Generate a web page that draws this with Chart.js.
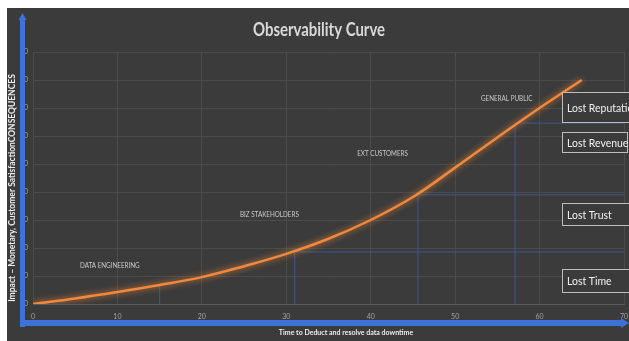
<!DOCTYPE html>
<html>
<head>
<meta charset="utf-8">
<script src="https://cdn.jsdelivr.net/npm/chart.js@4.4.1/dist/chart.umd.min.js"></script>
<style>
  html, body { margin: 0; padding: 0; background: #ffffff; overflow: hidden; }
  #wrap { position: absolute; left: 7px; top: 8px; width: 622px; height: 333px; }
  canvas { display: block; }
</style>
</head>
<body>
<div id="wrap"><canvas id="c" width="622" height="333"></canvas></div>
<script>
// Time to detect / resolve (x) and impact (y) along the curve
const timeValues   = [0, 5, 10, 15, 20, 25, 30, 35, 40, 45, 50, 55, 60, 65];
const impactValues = [0, 0.2, 0.43, 0.68, 0.96, 1.35, 1.79, 2.33, 3.0, 3.82, 4.87, 5.95, 7.0, 8.0];

// Escalation thresholds: the time at which each level is hit and its impact
const thresholdTimes   = [15, 31, 45.6, 57.1];
const thresholdImpacts = [0.68, 1.86, 3.9, 6.46];
const thresholdExtend  = [false, true, true, true];

// Audience labels along the curve
const audienceNames  = ['DATA ENGINEERING', 'BIZ STAKEHOLDERS', 'EXT CUSTOMERS', 'GENERAL PUBLIC'];
const audienceTimes  = [9.1, 28, 41.4, 56.1];
const audienceImpact = [1.36, 3.18, 5.36, 7.32];

// Consequence boxes at the right edge
const consequenceNames = ['Lost Reputation', 'Lost Revenue', 'Lost Trust', 'Lost Time'];

const xTickLabels = ['0', '10', '20', '30', '40', '50', '60', '70'];
const yTickLabels = ['0', '0', '0', '0', '0', '0', '0', '0', '0', '0'];

const chartTitle = 'Observability Curve';
const xTitle = 'Time to Deduct and resolve data downtime';
const yTitle = 'Impact \u2013 Monetary, Customer SatisfactionCONSEQUENCES';

const BG = '#3b3b3b';
const AXIS_BLUE = '#3f72d6';

const curvePoints = timeValues.map((t, i) => ({ x: t, y: impactValues[i] }));

const thresholdSets = thresholdTimes.map((t, i) => {
  const pts = [{ x: t, y: 0 }, { x: t, y: thresholdImpacts[i] }];
  if (thresholdExtend[i]) pts.push({ x: 70, y: thresholdImpacts[i] });
  return {
    data: pts,
    borderColor: '#3a5a8e',
    borderWidth: 1,
    pointRadius: 0,
    tension: 0,
    order: 1
  };
});

// draw text squeezed horizontally by a factor
function squeezedText(ctx, text, x, y, sx) {
  ctx.save();
  ctx.translate(x, y);
  ctx.scale(sx, 1);
  ctx.fillText(text, 0, 0);
  ctx.restore();
}

const decor = {
  id: 'decor',
  beforeDraw(chart) {
    const ctx = chart.ctx;
    ctx.save();
    ctx.fillStyle = BG;
    ctx.fillRect(0, 0, chart.width, chart.height);
    ctx.restore();
  },
  beforeDatasetDraw(chart, args) {
    if (args.index === 0) {
      const ctx = chart.ctx;
      ctx.save();
      ctx.shadowColor = 'rgba(255,140,50,0.9)';
      ctx.shadowBlur = 6;
    }
  },
  afterDatasetDraw(chart, args) {
    if (args.index === 0) chart.ctx.restore();
  },
  afterDraw(chart) {
    const ctx = chart.ctx;
    const xs = chart.scales.x, ys = chart.scales.y;
    ctx.save();

    // chart title
    ctx.fillStyle = '#d9d9d9';
    ctx.font = 'bold 18px Lato';
    ctx.textAlign = 'center';
    ctx.textBaseline = 'middle';
    squeezedText(ctx, chartTitle, 312, 22, 0.83);

    // audience labels
    ctx.fillStyle = '#c9c9c9';
    ctx.font = '7px Lato';
    audienceNames.forEach((n, i) => {
      const px = xs.getPixelForValue(audienceTimes[i]);
      const py = ys.getPixelForValue(audienceImpact[i]);
      squeezedText(ctx, n, px, py, 0.9);
    });

    // consequence boxes
    const boxes = [
      { x: 555, y: 84, w: 80, h: 30 },
      { x: 555, y: 124, w: 65, h: 20 },
      { x: 555, y: 195, w: 80, h: 22 },
      { x: 555, y: 261, w: 80, h: 23 }
    ];
    boxes.forEach((b, i) => {
      ctx.fillStyle = BG;
      ctx.fillRect(b.x, b.y, b.w, b.h);
      ctx.strokeStyle = '#bdbdbd';
      ctx.lineWidth = 1;
      ctx.strokeRect(b.x + 0.5, b.y + 0.5, b.w, b.h);
      ctx.fillStyle = '#f2f2f2';
      ctx.font = '12px Lato';
      ctx.textAlign = 'left';
      ctx.textBaseline = 'middle';
      squeezedText(ctx, consequenceNames[i], b.x + 5, b.y + b.h / 2 + 1, 0.87);
    });

    // thick blue axes with arrow heads
    ctx.fillStyle = AXIS_BLUE;
    ctx.fillRect(13, 10, 5, 309);
    ctx.beginPath();
    ctx.moveTo(15.5, 5);
    ctx.lineTo(11.5, 12);
    ctx.lineTo(19.5, 12);
    ctx.closePath();
    ctx.fill();
    ctx.fillRect(13, 312, 603, 6);
    ctx.beginPath();
    ctx.moveTo(622, 315);
    ctx.lineTo(614, 310);
    ctx.lineTo(614, 320);
    ctx.closePath();
    ctx.fill();

    // axis titles
    ctx.fillStyle = '#ececec';
    ctx.font = 'bold 7px Lato';
    ctx.textAlign = 'center';
    ctx.textBaseline = 'middle';
    ctx.fillText(xTitle, 339, 325);
    ctx.save();
    ctx.translate(5, 180);
    ctx.rotate(-Math.PI / 2);
    ctx.font = 'bold 8.5px Lato';
    ctx.fillText(yTitle, 0, 0);
    ctx.restore();

    ctx.restore();
  }
};

new Chart(document.getElementById('c'), {
  type: 'line',
  data: {
    datasets: [
      {
        data: curvePoints,
        borderColor: '#f0883e',
        borderWidth: 2.5,
        pointRadius: 0,
        tension: 0.4,
        order: 0
      },
      ...thresholdSets
    ]
  },
  options: {
    responsive: false,
    devicePixelRatio: 1,
    animation: false,
    layout: { padding: { left: 0, right: 5, top: 44, bottom: 0 } },
    plugins: {
      legend: { display: false },
      tooltip: { enabled: false },
      title: { display: false }
    },
    scales: {
      x: {
        type: 'linear',
        min: 0,
        max: 70,
        afterFit(s) { s.height = 37; s.paddingLeft = 0; s.paddingRight = 0; },
        afterBuildTicks(s) { s.ticks = xTickLabels.map(v => ({ value: Number(v) })); },
        grid: { color: '#4b4b4b', drawTicks: false },
        border: { display: true, color: '#5a5a5a' },
        ticks: {
          color: '#a3a3a3',
          font: { family: 'Lato', size: 7 },
          padding: 9,
          maxRotation: 0,
          callback: (v, i) => xTickLabels[i]
        }
      },
      y: {
        type: 'linear',
        min: 0,
        max: 9,
        afterFit(s) { s.width = 26; s.paddingTop = 0; s.paddingBottom = 0; },
        grid: { color: '#4b4b4b', drawTicks: false },
        border: { display: false },
        ticks: {
          stepSize: 1,
          color: '#a3a3a3',
          font: { family: 'Lato', size: 7 },
          padding: 5,
          callback: (v, i) => yTickLabels[i]
        }
      }
    }
  },
  plugins: [decor]
});
</script>
</body>
</html>
